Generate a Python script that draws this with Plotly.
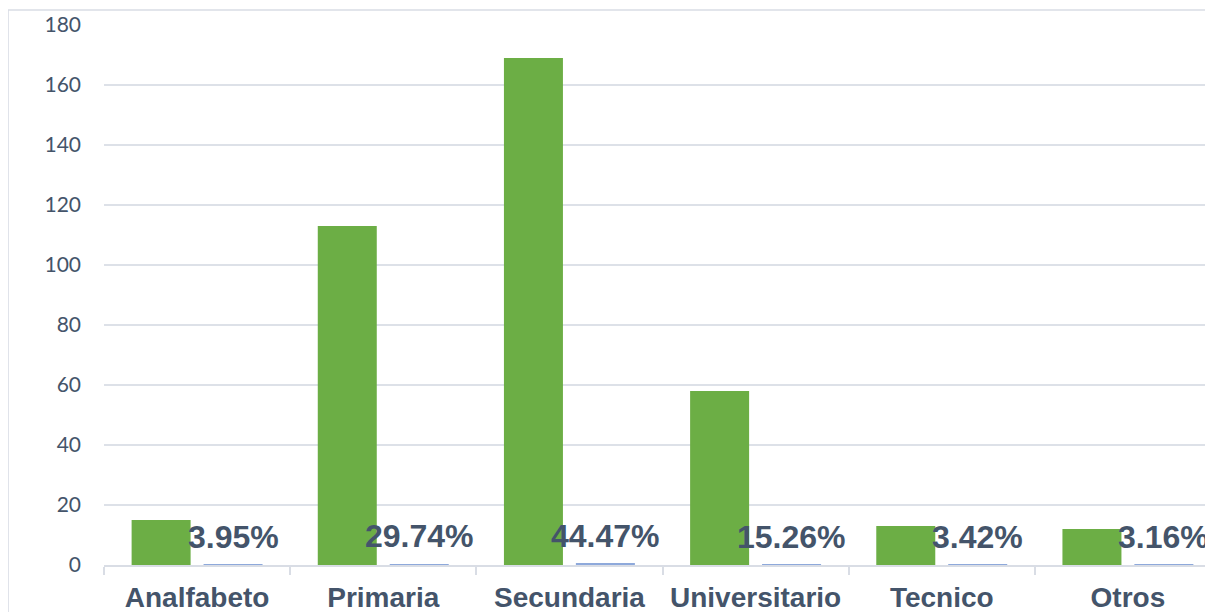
import plotly.graph_objects as go

categories = ["Analfabeto", "Primaria", "Secundaria", "Universitario", "Tecnico", "Otros"]
counts = [15, 113, 169, 58, 13, 12]
shares = [0.0395, 0.2974, 0.4447, 0.1526, 0.0342, 0.0316]
share_labels = ["3.95%", "29.74%", "44.47%", "15.26%", "3.42%", "3.16%"]
y_ticks = [0, 20, 40, 60, 80, 100, 120, 140, 160, 180]

label_color = "#44546A"
bargap = 0.227
bargroupgap = 0.18
# centre offset of the second bar of each group, in category units
second_offset = (1 - bargap) / 4

fig = go.Figure()
fig.add_trace(go.Bar(
    x=categories, y=counts, name="Cantidad",
    marker=dict(color="#6CAE45", line=dict(width=0)),
))
fig.add_trace(go.Bar(
    x=categories, y=shares, name="Porcentaje",
    marker=dict(color="#8EA9DB", line=dict(width=0)),
))

annotations = [
    dict(x=i + second_offset, y=s, xref="x", yref="y", text=lab,
         showarrow=False, yanchor="bottom", xanchor="center", yshift=8,
         font=dict(family="Liberation Sans", size=32, color=label_color, weight="bold"))
    for i, (s, lab) in enumerate(zip(shares, share_labels))
]

fig.update_layout(
    width=1213, height=612,
    margin=dict(l=96, r=0, t=17, b=55, autoexpand=False),
    paper_bgcolor="white", plot_bgcolor="white",
    showlegend=False,
    barmode="group", bargap=bargap, bargroupgap=bargroupgap,
    annotations=annotations,
    xaxis=dict(
        range=[-0.5, 5.5],
        tickson="boundaries", ticks="outside", ticklen=8, tickcolor="#D9DDE5",
        tickwidth=1.5,
        showline=True, linecolor="#D9DDE5", linewidth=1.5,
        showgrid=False, ticklabelstandoff=7,
        tickfont=dict(family="Liberation Sans", size=28, color=label_color, weight="bold"),
    ),
    yaxis=dict(
        range=[0, 180], tickvals=y_ticks,
        showgrid=True, gridcolor="#DDE1E8", gridwidth=1.5,
        zeroline=False, showline=False,
        tickfont=dict(family="Lato", size=21, color=label_color),
        ticklabelstandoff=22,
    ),
    shapes=[dict(
        type="rect", xref="paper", yref="paper",
        x0=-0.0859, x1=1.05, y0=-0.3, y1=1.0278,
        line=dict(color="#D9DDE5", width=1.5), fillcolor="rgba(0,0,0,0)", layer="below",
    )],
)

fig.write_html("out.html")
